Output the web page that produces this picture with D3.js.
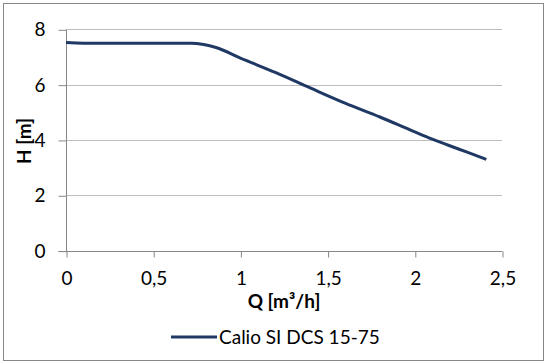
<!DOCTYPE html>
<html>
<head>
<meta charset="utf-8">
<script src="https://cdn.jsdelivr.net/npm/d3@7"></script>
<style>
  body { margin: 0; background: #fff; }
  text { font-family: Lato, "Noto Sans", sans-serif; fill: #000; }
</style>
</head>
<body>
<div id="chart"></div>
<script>
// pump curve
const flow = [0, 0.1, 0.3, 0.5, 0.72, 0.79, 0.86, 1.0, 1.2, 1.4, 1.6, 1.8, 2.0, 2.1, 2.2, 2.3, 2.41];
const head = [7.52, 7.5, 7.5, 7.5, 7.5, 7.45, 7.34, 6.96, 6.44, 5.88, 5.33, 4.83, 4.29, 4.03, 3.79, 3.56, 3.30];
const xTicks = [0, 0.5, 1, 1.5, 2, 2.5];
const yTicks = [0, 2, 4, 6, 8];
const seriesName = 'Calio SI DCS 15-75';

const W = 548, H = 363;
const plot = { left: 66, right: 502, top: 29.3, bottom: 250.6 };
const LINE_COLOR = '#203864';
const fmt = d => String(d).replace('.', ',');

const svg = d3.select('#chart').append('svg')
    .attr('width', W)
    .attr('height', H);

svg.append('rect')
    .attr('x', 3.5).attr('y', 3.5)
    .attr('width', 540).attr('height', 357)
    .attr('fill', '#fff')
    .attr('stroke', '#878787');

const x = d3.scaleLinear().domain([0, 2.5]).range([plot.left, plot.right]);
const y = d3.scaleLinear().domain([0, 8]).range([plot.bottom, plot.top]);

// grid
svg.append('g')
    .selectAll('line')
    .data(yTicks.filter(d => d > 0))
    .join('line')
    .attr('x1', plot.left).attr('x2', plot.right)
    .attr('y1', d => Math.round(y(d)) + 0.5).attr('y2', d => Math.round(y(d)) + 0.5)
    .attr('stroke', '#bdbdbd');

// y axis
const yAxis = svg.append('g')
    .attr('transform', `translate(${plot.left + 0.5},0.5)`)
    .call(d3.axisLeft(y).tickValues(yTicks).tickSize(8).tickPadding(13).tickFormat(fmt));
yAxis.select('.domain').attr('stroke', '#878787').attr('d', `M0,${y(8)}V${y(0)}`);
yAxis.selectAll('.tick line').attr('stroke', '#878787');
yAxis.selectAll('.tick text').style('font-size', '19px').attr('font-family', null);

// x axis
const xAxis = svg.append('g')
    .attr('transform', `translate(0.5,${Math.round(plot.bottom) + 0.5})`)
    .call(d3.axisBottom(x).tickValues(xTicks).tickSize(6).tickPadding(14).tickFormat(fmt));
xAxis.select('.domain').attr('stroke', '#878787').attr('d', `M${plot.left - 8},0H${plot.right}`);
xAxis.selectAll('.tick line').attr('stroke', '#878787');
xAxis.selectAll('.tick text').style('font-size', '19px').attr('font-family', null);

// curve
const pts = flow.map((q, i) => [q, head[i]]);
svg.append('path')
    .datum(pts)
    .attr('fill', 'none')
    .attr('stroke', LINE_COLOR)
    .attr('stroke-width', 3)
    .attr('stroke-linejoin', 'round')
    .attr('d', d3.line().x(d => x(d[0])).y(d => y(d[1])).curve(d3.curveMonotoneX));

// axis titles
svg.append('text')
    .attr('x', (plot.left + plot.right) / 2).attr('y', 308)
    .attr('text-anchor', 'middle')
    .style('font-size', '19px').style('font-weight', 'bold')
    .text('Q [m³/h]');

svg.append('text')
    .attr('transform', 'translate(31,141) rotate(-90)')
    .attr('text-anchor', 'middle')
    .style('font-size', '19px').style('font-weight', 'bold')
    .text('H [m]');

// legend
svg.append('line')
    .attr('x1', 171).attr('x2', 217)
    .attr('y1', 337).attr('y2', 337)
    .attr('stroke', LINE_COLOR).attr('stroke-width', 3);
svg.append('text')
    .attr('x', 219).attr('y', 344)
    .style('font-size', '19px')
    .text(seriesName);
</script>
</body>
</html>
